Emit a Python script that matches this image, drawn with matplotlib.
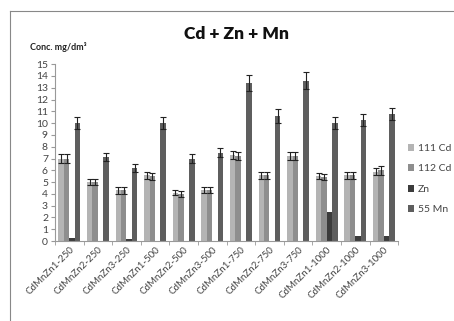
import matplotlib
matplotlib.use("Agg")
import matplotlib.pyplot as plt
import numpy as np

categories = ["CdMnZn1-250", "CdMnZn2-250", "CdMnZn3-250", "CdMnZn1-500", "CdMnZn2-500",
              "CdMnZn3-500", "CdMnZn1-750", "CdMnZn2-750", "CdMnZn3-750", "CdMnZn1-1000",
              "CdMnZn2-1000", "CdMnZn3-1000"]
cd111 = [7.0, 5.0, 4.3, 5.6, 4.1, 4.3, 7.3, 5.6, 7.2, 5.5, 5.6, 5.9]
cd111_err = [0.35, 0.25, 0.3, 0.3, 0.2, 0.25, 0.35, 0.3, 0.35, 0.25, 0.3, 0.3]
cd112 = [7.0, 5.0, 4.3, 5.5, 4.0, 4.3, 7.2, 5.6, 7.2, 5.4, 5.6, 6.0]
cd112_err = [0.35, 0.25, 0.3, 0.3, 0.25, 0.25, 0.35, 0.3, 0.35, 0.25, 0.3, 0.4]
zn = [0.3, 0.0, 0.2, 0.0, 0.0, 0.0, 0.0, 0.0, 0.0, 2.5, 0.4, 0.4]
mn55 = [10.0, 7.1, 6.2, 10.0, 7.0, 7.5, 13.4, 10.6, 13.6, 10.0, 10.3, 10.8]
mn55_err = [0.5, 0.35, 0.35, 0.5, 0.35, 0.4, 0.7, 0.6, 0.7, 0.5, 0.5, 0.5]
series_names = ["111 Cd", "112 Cd", "Zn", "55 Mn"]
yticks = list(range(0, 16))

colors = ["#b4b4b4", "#8e8e8e", "#3c3c3c", "#5e5e5e"]
font = ["Lato", "DejaVu Sans"]
plt.rcParams['font.family'] = font

fig = plt.figure(figsize=(4.54, 3.21), dpi=100)
ax = fig.add_axes([0.121, 0.249, 0.756, 0.551])

x = np.arange(len(categories))
w = 0.19
offs = [-1.5 * w, -0.5 * w, 0.5 * w, 1.5 * w]
data = [cd111, cd112, zn, mn55]
errs = [cd111_err, cd112_err, None, mn55_err]
for d, e, c, o, n in zip(data, errs, colors, offs, series_names):
    ax.bar(x + o, d, width=w, color=c, label=n, zorder=2)
    if e is not None:
        ax.errorbar(x + o, d, yerr=e, fmt='none', ecolor="#222222", elinewidth=0.8,
                    capsize=2, capthick=0.8, zorder=3)

ax.set_xlim(-0.5, len(categories) - 0.5)
ax.set_ylim(0, 15)
ax.set_yticks(yticks)
ax.set_yticklabels([str(t) for t in yticks], fontsize=7.5, color="#444444")
ax.set_xticks(x)
ax.set_xticklabels(categories, rotation=45, ha="right", rotation_mode="anchor", fontsize=7, color="#444444")
ax.tick_params(axis='x', length=0, pad=3)
ax.set_xticks(np.arange(-0.5, len(categories) + 0.5, 1), minor=True)
ax.tick_params(axis='x', which='minor', length=3, color="#999999")
ax.tick_params(axis='y', length=3, color="#999999", pad=2)
for s in ["top", "right"]:
    ax.spines[s].set_visible(False)
for s in ["left", "bottom"]:
    ax.spines[s].set_color("#999999")
    ax.spines[s].set_linewidth(0.8)

fig.text(0.52, 0.895, "Cd + Zn + Mn", ha="center", va="center", fontsize=12.5, fontweight="heavy", color="#111111")
fig.text(0.066, 0.853, "Conc. mg/dm³", ha="left", va="center", fontsize=6.5, fontweight="bold", color="#222222")

leg = ax.legend(loc="center left", bbox_to_anchor=(1.0, 0.35), frameon=False, fontsize=7.5,
                handlelength=0.6, handleheight=0.6, handletextpad=0.4, labelspacing=1.1)
for t in leg.get_texts():
    t.set_color("#444444")

# outer frame lines (top and left)
fig.add_artist(plt.Line2D([10/454, 1.0], [1 - 11/321, 1 - 11/321], color="#888888", lw=0.8))
fig.add_artist(plt.Line2D([10/454, 10/454], [0.0, 1 - 11/321], color="#888888", lw=0.8))

fig.savefig("out.png", dpi=100)
